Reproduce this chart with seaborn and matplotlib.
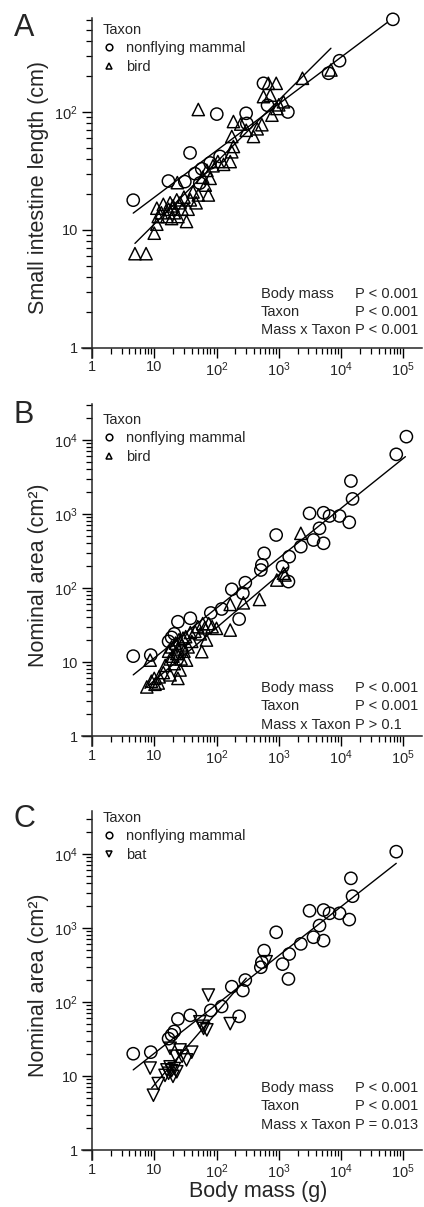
import numpy as np
import pandas as pd
import matplotlib
matplotlib.use("Agg")
import matplotlib.pyplot as plt
from matplotlib.lines import Line2D
from matplotlib.ticker import FixedLocator, FuncFormatter, NullFormatter
import seaborn as sns

# ---------------- data ----------------
# Panel A: small intestine length (cm) vs body mass (g)
a_mammal_mass = [4.6, 16.9, 31, 37.6, 45, 54, 58, 79, 114, 101, 299, 307, 568, 660, 1400, 6300, 9460, 68000]
a_mammal_len = [17.9, 26, 25.7, 45, 30, 25, 33, 37, 42, 96, 97.5, 80, 175, 114, 100, 213, 272, 610]
a_bird_mass = [4.9, 7.4, 10, 11, 11.6, 11, 13, 14, 16, 17, 18, 19, 20, 21, 23, 24, 26, 28, 30, 33, 35, 38,
               42, 47, 51, 74, 23.5, 60, 66, 79, 70, 88, 105, 130, 166, 176, 187, 176, 51, 187, 245, 300,
               392, 450, 535, 776, 933, 1000, 1190, 568, 730, 680, 910, 2400, 6880]
a_bird_len = [6.3, 6.3, 9.4, 11.2, 13, 15.3, 14, 16.5, 13, 15, 17, 12.5, 16, 14, 18, 13, 17, 15, 19, 11.8, 15, 18,
              21, 17, 19.8, 19.8, 25.2, 28, 24, 27.4, 32, 35, 38, 36, 38, 46, 51, 62, 105, 83, 79, 70,
              62, 72, 78, 94, 107, 115, 122, 135, 139, 175, 175, 193, 227]
a_mammal_fit_mass = [4.6, 54600]
a_mammal_fit_len = [13.9, 571]
a_bird_fit_mass = [4.9, 6880]
a_bird_fit_len = [7.7, 347]

# Panel B: nominal area (cm2) vs body mass (g)
b_mammal_mass = [112000, 77000, 14400, 15300, 13550, 9460, 6530, 5240, 3120, 4510, 3610, 5240, 2260, 1470,
                 908, 582, 535, 515, 1150, 1430, 290, 265, 176, 121, 81, 231, 38, 24, 19, 17, 21, 4.6, 8.8]
b_mammal_area = [11100, 6400, 2790, 1600, 772, 940, 940, 1040, 1020, 641, 445, 402, 362, 265,
                 520, 294, 205, 175, 194, 122, 118, 85, 96, 52, 46, 38, 39, 35, 21.5, 19, 24, 12, 12.4]
b_bird_mass = [490, 270, 166, 166, 930, 1260, 1190, 2260, 100, 69, 58, 33, 26, 24, 18, 11.6, 7.6, 9, 10.3, 10,
               12, 14, 8.6, 15, 17, 19, 20, 22, 24, 25, 27, 28, 30, 32, 35, 38, 40, 45, 50, 55, 60, 65,
               75, 85, 21, 23, 29, 18]
b_bird_area = [70, 63, 60, 27, 128, 150, 158, 548, 28.5, 19.8, 13.8, 10.6, 7.8, 6.0, 6.7, 5.2, 4.6, 5.5, 5.0, 6,
               6.3, 7.2, 10.6, 9, 14, 16, 12, 18, 15, 20, 11, 17, 14, 22, 16, 25, 19, 26, 30, 24, 33, 29,
               33, 30, 9.5, 13, 21, 11]
b_mammal_fit_mass = [4.6, 108000]
b_mammal_fit_area = [6.7, 5950]
b_bird_fit_mass = [7.1, 1430]
b_bird_fit_area = [4.4, 194]

# Panel C: nominal area (cm2) vs body mass (g), read against panel C's own axis
c_mammal_mass = [77000, 14400, 15300, 13550, 9460, 6530, 5240, 3120, 4510, 3610, 5240, 2260, 1470,
                 908, 582, 535, 515, 1150, 1430, 290, 265, 176, 121, 81, 231, 38, 24, 19, 17, 21, 4.6, 8.8]
c_mammal_area = [10750, 4690, 2690, 1300, 1580, 1580, 1750, 1710, 1080, 750, 675, 610, 445,
                 875, 495, 345, 295, 325, 205, 198, 143, 161, 87, 77, 64, 66, 59, 36, 32, 40, 20, 21]
c_bat_mass = [74, 627, 166, 70, 54, 40, 26, 18, 18, 8.6, 33, 23, 14.9, 20, 11.6, 9.7, 16, 19, 21, 17,
              22, 28, 60, 62]
c_bat_area = [124, 350, 51, 42, 54, 21, 22.5, 23.7, 13.3, 12.8, 16.5, 11.4, 10.2, 9.9, 7.9, 5.5, 12.1, 11.8,
              12.6, 10.9, 18.5, 18.5, 47, 44]
c_mammal_fit_mass = [4.6, 77000]
c_mammal_fit_area = [12.1, 7480]
c_bat_fit_mass = [9.1, 300]
c_bat_fit_area = [6.9, 210]

x_major = [1, 10, 100, 1000, 10000, 100000]

# ---------------- style ----------------
sns.set_style("ticks")
plt.rcParams["font.family"] = ["Liberation Sans", "DejaVu Sans"]
plt.rcParams["mathtext.fontset"] = "custom"
plt.rcParams["mathtext.rm"] = "Liberation Sans"
plt.rcParams["axes.linewidth"] = 1.1

W, H = 424, 1207
fig = plt.figure(figsize=(W / 100, H / 100), dpi=100)


def rect(left, top, right, bottom):
    return [left / W, 1 - bottom / H, (right - left) / W, (bottom - top) / H]


def fx(px):
    return px / W


def fy(py):
    return 1 - py / H


def fmt(v, pos):
    if abs(v - 1) < 1e-9:
        return "1"
    if abs(v - 10) < 1e-9:
        return "10"
    e = int(round(np.log10(v)))
    return r"$\mathregular{10^{%d}}$" % e


def minors(n_dec):
    return [m * 10 ** d for d in range(n_dec) for m in range(2, 10)]


TXT = 10.5
LAB = 15.5


def setup(ax, ylo, yhi, n_ydec, xlo=10 ** -0.16, xhi=10 ** 5.3):
    ax.set(xscale="log", yscale="log")
    ax.set_xlim(xlo, xhi)
    ax.set_ylim(ylo, yhi)
    sns.despine(ax=ax)
    ax.spines["left"].set_position(("data", 1))
    ax.spines["bottom"].set_position(("data", 1))
    ax.spines["left"].set_linewidth(1.1)
    ax.spines["bottom"].set_linewidth(1.1)
    ax.xaxis.set_major_locator(FixedLocator(x_major))
    ax.xaxis.set_minor_locator(FixedLocator(minors(5)))
    ax.yaxis.set_major_locator(FixedLocator([10 ** d for d in range(n_ydec + 1)]))
    ax.yaxis.set_minor_locator(FixedLocator([v for v in minors(n_ydec + 1) if v < yhi]))
    ax.xaxis.set_major_formatter(FuncFormatter(fmt))
    ax.yaxis.set_major_formatter(FuncFormatter(fmt))
    ax.xaxis.set_minor_formatter(NullFormatter())
    ax.yaxis.set_minor_formatter(NullFormatter())
    ax.tick_params(which="major", direction="out", length=7, width=1.0, labelsize=10.5, pad=3, color="black")
    ax.tick_params(axis="x", which="major", pad=2)
    ax.tick_params(which="minor", direction="out", length=4, width=0.9, color="black")
    ax.patch.set_alpha(0)


def scatter(ax, mass_a, val_a, lab_a, mass_b, val_b, lab_b, marker_b):
    df = pd.DataFrame({
        "mass": list(mass_a) + list(mass_b),
        "value": list(val_a) + list(val_b),
        "taxon": [lab_a] * len(mass_a) + [lab_b] * len(mass_b),
    })
    sns.scatterplot(data=df, x="mass", y="value", style="taxon",
                    markers={lab_a: "o", lab_b: marker_b}, s=78,
                    color="black", facecolor="none", edgecolor="black",
                    linewidth=1.05, legend=False, ax=ax, clip_on=False, zorder=3)


def fitline(ax, xs, ys):
    sns.lineplot(x=xs, y=ys, color="black", linewidth=1.0, ax=ax, estimator=None, sort=False, zorder=2)


def legend(ax, lab_b, marker_b, x_px, y_px):
    handles = [
        Line2D([], [], marker="o", linestyle="none", markersize=4.8, markerfacecolor="none",
               markeredgecolor="black", markeredgewidth=1.1),
        Line2D([], [], marker=marker_b, linestyle="none", markersize=5.0, markerfacecolor="none",
               markeredgecolor="black", markeredgewidth=1.1),
    ]
    leg = ax.legend(handles, ["nonflying mammal", lab_b], title="Taxon", loc="upper left",
                    bbox_to_anchor=(fx(x_px), fy(y_px)), bbox_transform=fig.transFigure,
                    frameon=False, fontsize=TXT, title_fontsize=TXT, borderpad=0, borderaxespad=0,
                    handlelength=0.8, handletextpad=0.75, labelspacing=0.3)
    leg._legend_box.align = "left"


def stats(rows, y_px_list):
    for (left, right), yp in zip(rows, y_px_list):
        fig.text(fx(261), fy(yp), left, fontsize=TXT, ha="left", va="center")
        fig.text(fx(355), fy(yp), right, fontsize=TXT, ha="left", va="center")


# ---------------- panel A ----------------
axA = fig.add_axes(rect(82, 18, 422, 358))
setup(axA, 10 ** (-10 / 118), 10 ** ((348 - 18) / 118), 2)
fitline(axA, a_mammal_fit_mass, a_mammal_fit_len)
fitline(axA, a_bird_fit_mass, a_bird_fit_len)
scatter(axA, a_mammal_mass, a_mammal_len, "nonflying mammal", a_bird_mass, a_bird_len, "bird", "^")
axA.set_xlabel("")
axA.set_ylabel("Small intestine length (cm)", fontsize=LAB)
axA.yaxis.set_label_coords((49 - 82) / 340, 0.5)
legend(axA, "bird", "^", 103, 23)
stats([("Body mass", "P < 0.001"), ("Taxon", "P < 0.001"), ("Mass x Taxon", "P < 0.001")],
      [294, 312, 330])

# ---------------- panel B ----------------
axB = fig.add_axes(rect(82, 404, 422, 746))
setup(axB, 10 ** (-10 / 74), 10 ** ((736 - 404) / 74), 4)
fitline(axB, b_mammal_fit_mass, b_mammal_fit_area)
fitline(axB, b_bird_fit_mass, b_bird_fit_area)
scatter(axB, b_mammal_mass, b_mammal_area, "nonflying mammal", b_bird_mass, b_bird_area, "bird", "^")
axB.set_xlabel("")
axB.set_ylabel("Nominal area (cm²)", fontsize=LAB)
axB.yaxis.set_label_coords((49 - 82) / 340, 0.5)
legend(axB, "bird", "^", 103, 413)
stats([("Body mass", "P < 0.001"), ("Taxon", "P < 0.001"), ("Mass x Taxon", "P > 0.1")],
      [688, 706.5, 725])

# ---------------- panel C ----------------
axC = fig.add_axes(rect(82, 811, 422, 1160))
setup(axC, 10 ** (-10 / 74), 10 ** ((1150 - 811) / 74), 4)
fitline(axC, c_mammal_fit_mass, c_mammal_fit_area)
fitline(axC, c_bat_fit_mass, c_bat_fit_area)
scatter(axC, c_mammal_mass, c_mammal_area, "nonflying mammal", c_bat_mass, c_bat_area, "bat", "v")
axC.set_ylabel("Nominal area (cm²)", fontsize=LAB)
axC.yaxis.set_label_coords((49 - 82) / 340, 0.5)
axC.set_xlabel("Body mass (g)", fontsize=LAB)
axC.xaxis.set_label_coords((258 - 82) / 340, -(1181 - 1160) / 349)
legend(axC, "bat", "v", 103, 811)
stats([("Body mass", "P < 0.001"), ("Taxon", "P < 0.001"), ("Mass x Taxon", "P = 0.013")],
      [1088, 1106.5, 1125])

# panel letters
for letter, yp in [("A", 28), ("B", 415), ("C", 819)]:
    fig.text(fx(24), fy(yp), letter, fontsize=22, ha="center", va="center")

fig.savefig("out.png", dpi=100)
